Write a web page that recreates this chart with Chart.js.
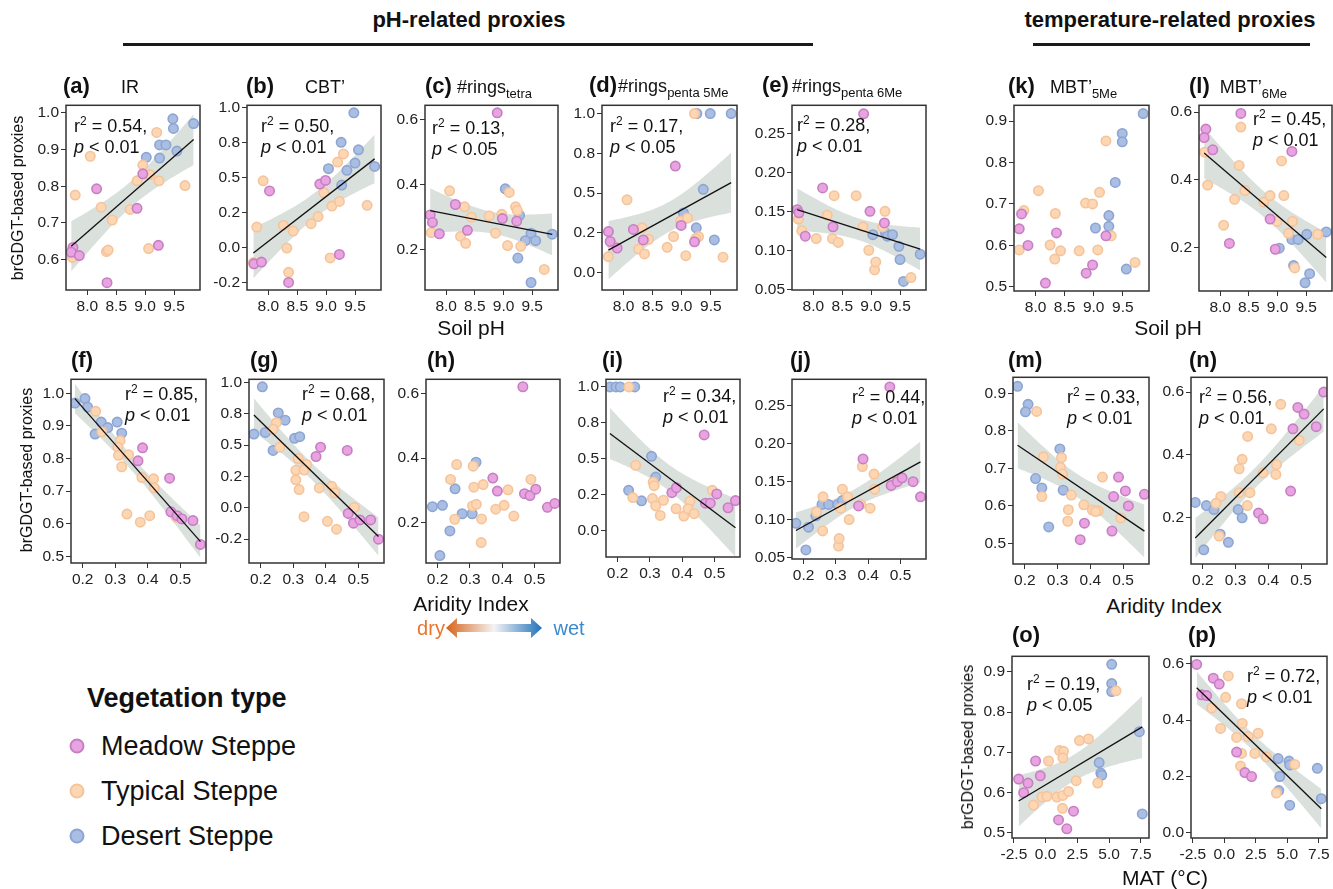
<!DOCTYPE html>
<html>
<head>
<meta charset="utf-8">
<script src="https://cdn.jsdelivr.net/npm/chart.js@4.4.1/dist/chart.umd.min.js"></script>
<style>
  body { margin: 0; background: #fff; }
  #page { position: relative; width: 1333px; height: 889px; overflow: hidden; font-family: 'Liberation Sans', Arial, sans-serif; color: #111; }
  #page canvas, #page .t { position: absolute; }
  .t { white-space: nowrap; line-height: 1; }
  .mid { transform: translateY(-50%); }
  .ttl b { font-size: 22px; }
  .ttl span { font-size: 18px; }
  .ttl sub { font-size: 13px; vertical-align: -5px; }
  .stat { font-size: 18px; line-height: 21px; }
  .stat sup { font-size: 12px; vertical-align: 7px; }
  .axt { font-size: 21px; transform: translate(-50%, -50%); }
  .yt { font-size: 16px; transform: translate(-50%, -50%) rotate(-90deg); }
  .head { font-weight: bold; font-size: 22px; transform: translate(-50%, -50%); }
  .rule { position: absolute; height: 3px; background: #1a1a1a; }
  .leg { font-size: 27px; }
  .dot { position: absolute; width: 11px; height: 11px; border-radius: 50%; border: 2px solid; transform: translate(-50%, -50%); }
</style>
</head>
<body>
<div id="page"></div>
<script>
// ---- data: [x, y] per site, one list per vegetation type ----
// x = soil pH (a-e, k, l), aridity index (f-j, m, n), MAT in °C (o, p)
const a_meadow = [[8.96,0.834],[8.16,0.793],[8.86,0.740],[9.23,0.639],[7.75,0.633],[7.72,0.62],[7.86,0.611],[8.34,0.537]];
const a_typical = [[9.20,0.947],[8.05,0.882],[8.96,0.858],[9.08,0.832],[9.24,0.815],[8.86,0.815],[9.69,0.802],[7.79,0.776],[8.24,0.743],[8.74,0.737],[8.43,0.708],[9.06,0.630],[8.33,0.622],[8.36,0.626],[7.74,0.606]];
const a_desert = [[9.48,0.984],[9.49,0.958],[9.84,0.971],[9.25,0.913],[9.36,0.913],[9.02,0.879],[9.25,0.877],[9.55,0.896]];

const b_meadow = [[8.02,0.403],[8.35,-0.25],[7.75,-0.117],[7.88,-0.105],[8.89,0.452],[8.99,0.478],[9.23,-0.05]];
const b_typical = [[7.91,0.475],[7.80,0.145],[8.26,0.157],[8.43,0.117],[8.32,-0.005],[8.35,-0.178],[7.74,-0.108],[8.74,0.169],[8.86,0.22],[8.96,0.391],[9.10,0.295],[9.07,-0.075],[9.30,0.667],[9.20,0.609],[9.23,0.328],[9.71,0.30]];
const b_desert = [[9.48,0.96],[9.56,0.696],[9.50,0.602],[9.36,0.55],[9.84,0.578],[9.27,0.445],[9.04,0.562],[9.26,0.75]];

const c_meadow = [[8.89,0.62],[8.16,0.339],[8.98,0.296],[9.23,0.288],[7.72,0.307],[7.76,0.284],[7.88,0.249],[8.37,0.26]];
const c_typical = [[8.06,0.381],[9.10,0.376],[8.32,0.332],[8.44,0.30],[8.75,0.304],[8.97,0.309],[9.21,0.332],[9.24,0.321],[7.74,0.253],[8.25,0.241],[8.34,0.22],[8.86,0.251],[9.07,0.213],[9.30,0.211],[9.71,0.14]];
const c_desert = [[9.03,0.387],[9.28,0.306],[9.38,0.228],[9.48,0.251],[9.56,0.228],[9.85,0.248],[9.25,0.175],[9.48,0.10]];

const d_meadow = [[8.89,0.67],[8.99,0.297],[9.22,0.194],[7.74,0.258],[7.77,0.196],[7.89,0.155],[8.17,0.272],[8.34,0.206]];
const d_typical = [[9.22,1.0],[8.06,0.458],[8.98,0.324],[9.10,0.344],[8.86,0.227],[9.29,0.227],[9.24,0.214],[8.75,0.159],[9.07,0.107],[9.71,0.097],[7.80,0.179],[7.74,0.101],[8.32,0.282],[8.43,0.21],[8.26,0.148],[8.36,0.118]];
const d_desert = [[9.26,1.0],[9.49,1.0],[9.85,1.0],[9.37,0.524],[9.03,0.375],[9.25,0.282],[9.56,0.206]];

const e_meadow = [[7.72,0.152],[7.75,0.148],[7.86,0.118],[8.16,0.18],[8.34,0.13],[8.87,0.275],[8.98,0.15],[9.23,0.135]];
const e_typical = [[7.74,0.14],[7.80,0.125],[8.05,0.115],[8.24,0.145],[8.33,0.115],[8.36,0.17],[8.43,0.11],[8.74,0.17],[8.86,0.13],[8.96,0.10],[9.06,0.075],[9.08,0.085],[9.20,0.13],[9.24,0.15],[9.69,0.065]];
const e_desert = [[9.03,0.12],[9.25,0.122],[9.28,0.118],[9.37,0.12],[9.48,0.105],[9.50,0.088],[9.56,0.06],[9.85,0.095]];

const k_meadow = [[7.76,0.676],[7.72,0.64],[7.87,0.60],[8.17,0.509],[8.36,0.63],[8.87,0.533],[8.98,0.553],[9.21,0.623]];
const k_typical = [[9.21,0.852],[8.05,0.732],[7.80,0.684],[7.72,0.589],[8.25,0.601],[8.33,0.567],[8.34,0.677],[8.43,0.587],[8.75,0.587],[8.86,0.702],[8.98,0.70],[9.10,0.728],[9.07,0.589],[9.30,0.623],[9.71,0.559]];
const k_desert = [[9.85,0.918],[9.49,0.87],[9.49,0.85],[9.37,0.752],[9.26,0.672],[9.26,0.646],[9.03,0.642],[9.56,0.543]];

const l_meadow = [[8.36,0.596],[7.75,0.55],[7.72,0.525],[7.87,0.489],[9.25,0.484],[8.87,0.285],[8.16,0.213],[8.96,0.196]];
const l_typical = [[8.36,0.556],[7.73,0.482],[9.07,0.456],[8.33,0.443],[7.78,0.385],[8.43,0.369],[8.25,0.343],[8.76,0.335],[8.87,0.354],[9.11,0.354],[8.06,0.267],[8.99,0.278],[9.26,0.278],[9.19,0.243],[9.70,0.24],[9.30,0.141]];
const l_desert = [[9.25,0.225],[9.36,0.225],[9.51,0.24],[9.85,0.247],[9.03,0.199],[9.28,0.148],[9.56,0.124],[9.48,0.097]];

const f_meadow = [[0.384,0.833],[0.37,0.793],[0.467,0.74],[0.471,0.637],[0.49,0.625],[0.505,0.615],[0.539,0.61],[0.562,0.537]];
const f_typical = [[0.24,0.945],[0.259,0.882],[0.315,0.855],[0.308,0.835],[0.31,0.81],[0.341,0.812],[0.32,0.775],[0.382,0.742],[0.418,0.738],[0.42,0.71],[0.336,0.63],[0.377,0.605],[0.406,0.625],[0.488,0.62]];
const f_desert = [[0.176,0.97],[0.207,0.984],[0.215,0.958],[0.238,0.875],[0.257,0.912],[0.277,0.895],[0.306,0.912],[0.32,0.878]];

const g_meadow = [[0.37,0.41],[0.384,0.484],[0.466,0.458],[0.469,-0.044],[0.485,-0.122],[0.505,-0.096],[0.538,-0.096],[0.562,-0.25]];
const g_typical = [[0.248,0.68],[0.238,0.628],[0.259,0.484],[0.315,0.393],[0.308,0.30],[0.341,0.346],[0.333,0.302],[0.308,0.224],[0.318,0.146],[0.333,-0.07],[0.38,0.159],[0.418,0.172],[0.428,0.12],[0.405,-0.107],[0.433,-0.17],[0.488,0.003]];
const g_desert = [[0.179,0.589],[0.205,0.966],[0.214,0.602],[0.238,0.458],[0.254,0.758],[0.275,0.70],[0.304,0.555],[0.32,0.568]];

const h_meadow = [[0.371,0.338],[0.385,0.298],[0.464,0.62],[0.469,0.29],[0.486,0.284],[0.504,0.304],[0.54,0.248],[0.563,0.26]];
const h_typical = [[0.259,0.38],[0.24,0.334],[0.253,0.211],[0.31,0.375],[0.312,0.31],[0.308,0.252],[0.32,0.257],[0.341,0.318],[0.336,0.212],[0.335,0.139],[0.38,0.242],[0.406,0.254],[0.418,0.302],[0.436,0.221],[0.489,0.334]];
const h_desert = [[0.184,0.25],[0.215,0.254],[0.238,0.175],[0.254,0.305],[0.276,0.228],[0.307,0.228],[0.319,0.387],[0.207,0.099]];

const i_meadow = [[0.468,0.667],[0.368,0.266],[0.382,0.30],[0.507,0.257],[0.472,0.193],[0.487,0.193],[0.542,0.161],[0.565,0.211]];
const i_typical = [[0.235,1.0],[0.256,0.456],[0.31,0.339],[0.313,0.314],[0.247,0.232],[0.308,0.225],[0.318,0.174],[0.342,0.213],[0.332,0.108],[0.381,0.154],[0.405,0.103],[0.424,0.206],[0.418,0.154],[0.437,0.12],[0.493,0.282]];
const i_desert = [[0.176,1.0],[0.195,1.0],[0.208,1.0],[0.253,1.0],[0.305,0.518],[0.318,0.374],[0.234,0.282],[0.274,0.209]];

const j_meadow = [[0.37,0.118],[0.384,0.18],[0.467,0.275],[0.471,0.145],[0.49,0.15],[0.505,0.155],[0.539,0.15],[0.562,0.13]];
const j_typical = [[0.24,0.11],[0.259,0.085],[0.26,0.13],[0.308,0.065],[0.31,0.075],[0.315,0.115],[0.32,0.14],[0.336,0.13],[0.341,0.10],[0.377,0.12],[0.382,0.17],[0.406,0.115],[0.418,0.16],[0.42,0.14],[0.488,0.15]];
const j_desert = [[0.176,0.095],[0.207,0.06],[0.215,0.09],[0.238,0.105],[0.257,0.12],[0.277,0.12],[0.306,0.12],[0.32,0.125]];

const m_meadow = [[0.486,0.677],[0.507,0.64],[0.565,0.631],[0.471,0.625],[0.516,0.60],[0.382,0.554],[0.466,0.533],[0.369,0.51]];
const m_typical = [[0.236,0.852],[0.257,0.731],[0.312,0.729],[0.309,0.703],[0.315,0.685],[0.252,0.625],[0.342,0.629],[0.333,0.59],[0.331,0.559],[0.38,0.603],[0.406,0.589],[0.424,0.587],[0.437,0.677],[0.493,0.568],[0.416,0.585]];
const m_desert = [[0.178,0.919],[0.21,0.871],[0.202,0.851],[0.307,0.752],[0.233,0.673],[0.252,0.648],[0.317,0.642],[0.273,0.544]];

const n_meadow = [[0.569,0.60],[0.49,0.551],[0.509,0.53],[0.475,0.483],[0.546,0.49],[0.468,0.285],[0.37,0.215],[0.384,0.197]];
const n_typical = [[0.438,0.561],[0.494,0.447],[0.409,0.483],[0.337,0.459],[0.32,0.386],[0.311,0.356],[0.384,0.343],[0.425,0.369],[0.423,0.338],[0.344,0.28],[0.311,0.28],[0.336,0.239],[0.255,0.268],[0.24,0.246],[0.25,0.142]];
const n_desert = [[0.177,0.249],[0.211,0.239],[0.234,0.226],[0.308,0.226],[0.32,0.2],[0.253,0.148],[0.278,0.122],[0.203,0.098]];

const o_meadow = [[-2.13,0.633],[-1.39,0.623],[-1.73,0.599],[-0.79,0.678],[-0.42,0.641],[1.02,0.531],[2.20,0.553],[1.67,0.509]];
const o_typical = [[5.55,0.853],[2.67,0.729],[3.38,0.733],[1.10,0.704],[1.41,0.702],[1.36,0.686],[0.23,0.678],[2.41,0.629],[4.11,0.623],[-0.95,0.568],[-0.29,0.588],[0.10,0.59],[0.89,0.588],[1.36,0.592],[1.81,0.602],[1.33,0.56]];
const o_desert = [[5.21,0.919],[5.21,0.871],[5.21,0.851],[7.39,0.751],[7.62,0.546],[4.22,0.674],[4.35,0.648],[4.43,0.643]];

const p_meadow = [[-2.2,0.598],[-0.88,0.549],[-0.41,0.528],[-1.81,0.49],[-1.41,0.487],[0.97,0.286],[1.63,0.213],[2.16,0.199]];
const p_typical = [[0.31,0.557],[0.10,0.481],[1.36,0.458],[-1.01,0.443],[-0.30,0.370],[1.42,0.388],[0.97,0.338],[1.89,0.341],[2.68,0.353],[1.36,0.281],[2.42,0.281],[3.34,0.269],[1.28,0.236],[5.59,0.242],[4.13,0.14]];
const p_desert = [[4.27,0.263],[4.40,0.199],[5.14,0.254],[5.19,0.24],[4.32,0.149],[5.19,0.097],[7.38,0.228],[7.70,0.12]];

// reported statistics (text)
const stats = {
  a: ['0.54', '0.01'], b: ['0.50', '0.01'], c: ['0.13', '0.05'], d: ['0.17', '0.05'], e: ['0.28', '0.01'],
  l: ['0.45', '0.01'], f: ['0.85', '0.01'], g: ['0.68', '0.01'], i: ['0.34', '0.01'], j: ['0.44', '0.01'],
  m: ['0.33', '0.01'], n: ['0.56', '0.01'], o: ['0.19', '0.05'], p: ['0.72', '0.01']
};

// ---- styling / layout ----
const TYPES = [
  { name: 'Meadow Steppe', fill: '#e9a3e0', line: '#c57fc3' },
  { name: 'Typical Steppe', fill: '#fdd6b3', line: '#f5c49b' },
  { name: 'Desert Steppe', fill: '#a9bee2', line: '#8ca5d2' }
];
const PH = { min: 7.63, max: 9.95, step: 0.5, dp: 1 };
const AI = { min: 0.164, max: 0.579, step: 0.1, dp: 1 };
const MAT = { min: -2.65, max: 8.15, step: 2.5, dp: 1 };

// lab = [left, centre y], gap = space between "(x)" and the proxy name
const PANELS = [
  { id: 'a', box: [66, 102, 200, 290], x: PH, y: { min: 0.517, max: 1.021, step: 0.1, dp: 1 }, pts: [a_meadow, a_typical, a_desert], fit: true,
    lab: [63, 86], gap: 31, name: 'IR', st: [74, 122] },
  { id: 'b', box: [247, 102, 381, 290], x: PH, y: { min: -0.304, max: 1.014, step: 0.25, dp: 1 }, pts: [b_meadow, b_typical, b_desert], fit: true,
    lab: [246, 86], gap: 31, name: 'CBT’', st: [261, 122] },
  { id: 'c', box: [425, 102, 558, 290], x: PH, y: { min: 0.077, max: 0.643, step: 0.2, dp: 1 }, pts: [c_meadow, c_typical, c_desert], fit: true,
    lab: [425, 87], gap: 5, name: '#rings<sub>tetra</sub>', st: [432, 124] },
  { id: 'd', box: [602, 102, 737, 290], x: PH, y: { min: -0.109, max: 1.052, step: 0.25, dp: 1 }, pts: [d_meadow, d_typical, d_desert], fit: true,
    lab: [589, 86], gap: 1, name: '#rings<sub>penta 5Me</sub>', st: [610, 122] },
  { id: 'e', box: [792, 102, 926, 290], x: PH, y: { min: 0.049, max: 0.286, step: 0.05, dp: 2 }, pts: [e_meadow, e_typical, e_desert], fit: true,
    lab: [762, 86], gap: 3, name: '#rings<sub>penta 6Me</sub>', st: [797, 121] },
  { id: 'k', box: [1014, 102, 1149, 291], x: PH, y: { min: 0.490, max: 0.938, step: 0.1, dp: 1 }, pts: [k_meadow, k_typical, k_desert], fit: false,
    lab: [1008, 87], gap: 15, name: 'MBT’<sub>5Me</sub>' },
  { id: 'l', box: [1199, 102, 1332, 291], x: PH, y: { min: 0.073, max: 0.620, step: 0.2, dp: 1 }, pts: [l_meadow, l_typical, l_desert], fit: true,
    lab: [1189, 87], gap: 10, name: 'MBT’<sub>6Me</sub>', st: [1253, 115] },
  { id: 'f', box: [71, 376, 206, 563], x: AI, y: { min: 0.48, max: 1.043, step: 0.1, dp: 1 }, pts: [f_meadow, f_typical, f_desert], fit: true,
    lab: [71, 360], st: [125, 390] },
  { id: 'g', box: [249, 376, 384, 563], x: AI, y: { min: -0.44, max: 1.026, step: 0.25, dp: 1 }, pts: [g_meadow, g_typical, g_desert], fit: true,
    lab: [250, 360], st: [302, 390] },
  { id: 'h', box: [426, 376, 560, 563], x: AI, y: { min: 0.076, max: 0.643, step: 0.2, dp: 1 }, pts: [h_meadow, h_typical, h_desert], fit: false,
    lab: [427, 360] },
  { id: 'i', box: [606, 376, 740, 557], x: AI, y: { min: -0.181, max: 1.053, step: 0.25, dp: 1 }, pts: [i_meadow, i_typical, i_desert], fit: true,
    lab: [602, 360], st: [663, 392] },
  { id: 'j', box: [792, 376, 926, 559], x: AI, y: { min: 0.048, max: 0.285, step: 0.05, dp: 2 }, pts: [j_meadow, j_typical, j_desert], fit: true,
    lab: [790, 360], st: [852, 393] },
  { id: 'm', box: [1013, 374, 1149, 564], x: AI, y: { min: 0.445, max: 0.943, step: 0.1, dp: 1 }, pts: [m_meadow, m_typical, m_desert], fit: true,
    lab: [1008, 360], st: [1067, 393] },
  { id: 'n', box: [1191, 374, 1327, 564], x: AI, y: { min: 0.053, max: 0.647, step: 0.2, dp: 1 }, pts: [n_meadow, n_typical, n_desert], fit: true,
    lab: [1189, 360], st: [1199, 393] },
  { id: 'o', box: [1012, 653, 1149, 838], x: MAT, y: { min: 0.486, max: 0.939, step: 0.1, dp: 1 }, pts: [o_meadow, o_typical, o_desert], fit: true,
    lab: [1012, 635], st: [1027, 680] },
  { id: 'p', box: [1191, 653, 1327, 838], x: MAT, y: { min: -0.02, max: 0.627, step: 0.2, dp: 1 }, pts: [p_meadow, p_typical, p_desert], fit: true,
    lab: [1188, 635], st: [1247, 672] }
];

const Y_W = 44, X_H = 26, PAD_T = 8, PAD_R = 8;
const page = document.getElementById('page');

// R-style label rounding (half to even), so 0.75 -> 0.8 and 0.25 -> 0.2
function fmt(v, dp) {
  const f = Math.pow(10, dp);
  const t = v * f;
  let n = Math.floor(t);
  const d = t - n;
  if (d > 0.5 + 1e-9) n += 1;
  else if (Math.abs(d - 0.5) <= 1e-9 && n % 2 !== 0) n += 1;
  return (n / f).toFixed(dp);
}

// ordinary least squares with 95% confidence band, like geom_smooth(method = 'lm')
function linearFit(pts) {
  const n = pts.length;
  const mx = pts.reduce((s, p) => s + p[0], 0) / n;
  const my = pts.reduce((s, p) => s + p[1], 0) / n;
  let sxx = 0, sxy = 0;
  pts.forEach(p => { sxx += (p[0] - mx) ** 2; sxy += (p[0] - mx) * (p[1] - my); });
  const b = sxy / sxx, a = my - b * mx;
  let sse = 0;
  pts.forEach(p => { sse += (p[1] - a - b * p[0]) ** 2; });
  const s = Math.sqrt(sse / (n - 2));
  const z = 1.96, df = n - 2;
  const t = z + (z ** 3 + z) / (4 * df);
  const xs = pts.map(p => p[0]);
  const x0 = Math.min(...xs), x1 = Math.max(...xs);
  const lo = [], hi = [];
  const steps = 60;
  for (let i = 0; i <= steps; i++) {
    const x = x0 + (x1 - x0) * i / steps;
    const yh = a + b * x;
    const se = s * Math.sqrt(1 / n + (x - mx) ** 2 / sxx);
    lo.push({ x, y: yh - t * se });
    hi.push({ x, y: yh + t * se });
  }
  return { line: [{ x: x0, y: a + b * x0 }, { x: x1, y: a + b * x1 }], lo, hi };
}

const boxPlugin = {
  id: 'box',
  afterDatasetsDraw(chart) {
    const { ctx, chartArea: c } = chart;
    ctx.save();
    ctx.strokeStyle = '#333';
    ctx.lineWidth = 1.5;
    ctx.strokeRect(c.left, c.top, c.right - c.left, c.bottom - c.top);
    ctx.restore();
  }
};

Chart.defaults.font.family = "'Liberation Sans', Arial, sans-serif";
Chart.defaults.font.size = 15.5;
Chart.defaults.color = '#222';

function axis(cfg, isX) {
  return {
    type: 'linear',
    min: cfg.min,
    max: cfg.max,
    border: { display: false },
    grid: { display: true, drawOnChartArea: false, drawTicks: true, tickLength: 5, color: '#333', lineWidth: 1 },
    ticks: {
      stepSize: cfg.step, includeBounds: false, autoSkip: false, maxRotation: 0, minRotation: 0,
      padding: 2, color: '#222', font: { size: 15.5 },
      callback: v => fmt(v, cfg.dp)
    },
    afterFit: s => { if (isX) s.height = X_H; else s.width = Y_W; }
  };
}

function addText(html, cls, left, top, extra) {
  const d = document.createElement('div');
  d.className = 't ' + cls;
  d.style.left = left + 'px';
  d.style.top = top + 'px';
  if (extra) Object.assign(d.style, extra);
  d.innerHTML = html;
  page.appendChild(d);
  return d;
}

PANELS.forEach(P => {
  const [x0, y0, x1, y1] = P.box;
  const cv = document.createElement('canvas');
  const w = (x1 - x0) + Y_W + PAD_R, h = (y1 - y0) + PAD_T + X_H;
  cv.width = w; cv.height = h;
  cv.style.left = (x0 - Y_W) + 'px';
  cv.style.top = (y0 - PAD_T) + 'px';
  cv.style.width = w + 'px'; cv.style.height = h + 'px';
  page.appendChild(cv);

  const datasets = [];
  const all = [].concat(...P.pts);
  const fit = P.fit ? linearFit(all) : null;
  datasets.push({
    data: fit ? fit.line : [], showLine: true, borderColor: '#111', borderWidth: 1.3,
    pointRadius: 0, fill: false, order: 1
  });
  P.pts.forEach((arr, k) => {
    datasets.push({
      label: TYPES[k].name,
      data: arr.map(p => ({ x: p[0], y: p[1] })),
      showLine: false, pointRadius: 4.7, pointBorderWidth: 1.6,
      pointBackgroundColor: TYPES[k].fill, pointBorderColor: TYPES[k].line,
      order: 2
    });
  });
  datasets.push({
    data: fit ? fit.lo : [], showLine: true, borderWidth: 0, borderColor: 'rgba(0,0,0,0)',
    pointRadius: 0, fill: false, order: 3
  });
  datasets.push({
    data: fit ? fit.hi : [], showLine: true, borderWidth: 0, borderColor: 'rgba(0,0,0,0)',
    pointRadius: 0, fill: { target: 4 }, backgroundColor: '#dae0dc', order: 3
  });

  new Chart(cv.getContext('2d'), {
    type: 'line',
    data: { datasets },
    options: {
      responsive: false, animation: false, events: [],
      layout: { padding: { top: PAD_T, right: PAD_R, left: 0, bottom: 0 } },
      plugins: { legend: { display: false }, tooltip: { enabled: false } },
      scales: { x: axis(P.x, true), y: axis(P.y, false) }
    },
    plugins: [boxPlugin]
  });

  let title = '<b>(' + P.id + ')</b>';
  if (P.name) title += '<span style="margin-left:' + P.gap + 'px">' + P.name + '</span>';
  addText(title, 'ttl mid', P.lab[0], P.lab[1]);
  if (P.st) {
    const s = stats[P.id];
    addText('r<sup>2</sup> = ' + s[0] + ',<br><i>p</i> &lt; ' + s[1], 'stat', P.st[0], P.st[1] - 11);
  }
});

// axis titles
addText('brGDGT-based proxies', 'yt', 18, 198);
addText('brGDGT-based proxies', 'yt', 27, 470);
addText('brGDGT-based proxies', 'yt', 968, 747);
addText('Soil pH', 'axt', 471, 327);
addText('Soil pH', 'axt', 1168, 327);
addText('Aridity Index', 'axt', 471, 603);
addText('Aridity Index', 'axt', 1164, 605);
addText('MAT (°C)', 'axt', 1165, 877);

// group headers
addText('pH-related proxies', 'head', 469, 20);
addText('temperature-related proxies', 'head', 1170, 20);
[[123, 813], [1033, 1310]].forEach(([l, r]) => {
  const d = document.createElement('div');
  d.className = 'rule';
  d.style.left = l + 'px'; d.style.top = '43px'; d.style.width = (r - l) + 'px';
  page.appendChild(d);
});

// dry / wet arrow
addText('dry', 'axt', 431, 628, { color: '#e8772e', fontSize: '20px' });
addText('wet', 'axt', 569, 628, { color: '#3a8ad0', fontSize: '20px' });
const svgNS = 'http://www.w3.org/2000/svg';
const svg = document.createElementNS(svgNS, 'svg');
svg.setAttribute('width', '96'); svg.setAttribute('height', '22');
Object.assign(svg.style, { position: 'absolute', left: '446px', top: '617px' });
svg.innerHTML = '<defs><linearGradient id="gr" x1="0" x2="1" y1="0" y2="0">' +
  '<stop offset="0" stop-color="#d8621b"/><stop offset="0.5" stop-color="#f4f4f4"/><stop offset="1" stop-color="#2271bb"/>' +
  '</linearGradient></defs>' +
  '<polygon points="0,11 11,1 11,7 85,7 85,1 96,11 85,21 85,15 11,15 11,21" fill="url(#gr)"/>';
page.appendChild(svg);

// legend
addText('Vegetation type', 'leg mid', 87, 698, { fontWeight: 'bold' });
TYPES.forEach((t, k) => {
  const y = 746 + k * 45;
  const dot = document.createElement('div');
  dot.className = 'dot';
  dot.style.left = '77px'; dot.style.top = y + 'px';
  dot.style.background = t.fill; dot.style.borderColor = t.line;
  page.appendChild(dot);
  addText(t.name, 'leg mid', 101, y);
});
</script>
</body>
</html>
